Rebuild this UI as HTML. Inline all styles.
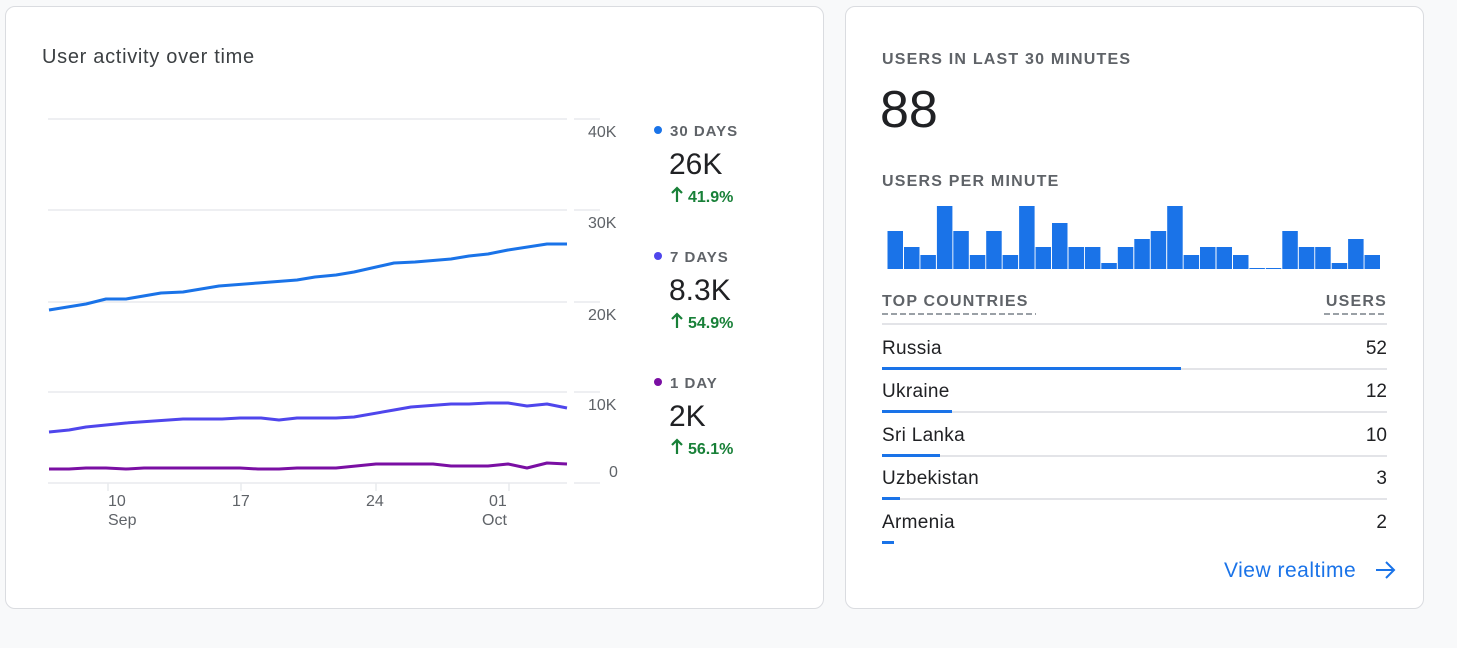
<!DOCTYPE html>
<html><head><style>
body{margin:0;width:1457px;height:648px;background:#f8f9fa;position:relative;font-family:"Liberation Sans",sans-serif;overflow:hidden}
.card{position:absolute;background:#fff;border:1px solid #dadce0;border-radius:10px}
.t{position:absolute;white-space:nowrap}
</style></head><body>
<div class="card" style="left:5px;top:6px;width:817px;height:601px"></div>
<div class="card" style="left:845px;top:6px;width:577px;height:601px"></div>
<div class="t" style="left:42px;top:46px;font-size:20px;letter-spacing:0.7px;color:#3c4043">User activity over time</div>
<svg width="1457" height="648" style="position:absolute;left:0;top:0">
<g stroke="#e8eaed" stroke-width="1.5">
<line x1="48" y1="119" x2="567" y2="119"/><line x1="48" y1="210" x2="567" y2="210"/><line x1="48" y1="302" x2="567" y2="302"/><line x1="48" y1="392" x2="567" y2="392"/><line x1="48" y1="483" x2="567" y2="483"/>
<line x1="574" y1="119" x2="600" y2="119"/><line x1="574" y1="210" x2="600" y2="210"/><line x1="574" y1="302" x2="600" y2="302"/><line x1="574" y1="392" x2="600" y2="392"/><line x1="574" y1="483" x2="600" y2="483"/>
<line x1="108" y1="483" x2="108" y2="491"/><line x1="241" y1="483" x2="241" y2="491"/><line x1="376" y1="483" x2="376" y2="491"/><line x1="509" y1="483" x2="509" y2="491"/>
</g>
<g fill="none" stroke-width="3" stroke-linejoin="round">
<polyline stroke="#1a73e8" points="49,310 86,304 106,299 126,299 161,293 183,292 219,286 258,283 297,280 315,277 336,275 354,272 394,263 415,262 451,259 469,256 488,254 508,250 547,244 567,244"/>
<polyline stroke="#4f46ec" points="49,432 69,430 86,427 126,423 183,419 222,419 240,418 261,418 279,420 297,418 336,418 354,417 394,410 411,407 451,404 469,404 488,403 508,403 527,406 547,404 567,408"/>
<polyline stroke="#7a0fa3" points="49,469 69,469 86,468 106,468 126,469 144,468 240,468 258,469 279,469 297,468 336,468 376,464 433,464 451,466 488,466 508,464 527,468 547,463 567,464"/>
</g>
<g fill="#5f6368" font-size="16" font-family="Liberation Sans">
<text x="588" y="137">40K</text><text x="588" y="228">30K</text><text x="588" y="320">20K</text><text x="588" y="410">10K</text><text x="609" y="477">0</text>
<text x="108" y="506">10</text><text x="108" y="525">Sep</text><text x="232" y="506">17</text><text x="366" y="506">24</text><text x="489" y="506">01</text><text x="482" y="525">Oct</text>
</g>
<circle cx="658" cy="130" r="4" fill="#1a73e8"/><circle cx="658" cy="256" r="4" fill="#4f46ec"/><circle cx="658" cy="382" r="4" fill="#7a0fa3"/>
<g font-family="Liberation Sans">
<text x="670" y="136" font-size="15" font-weight="bold" fill="#5f6368" letter-spacing="1">30 DAYS</text>
<text x="669" y="174" font-size="30" fill="#202124">26K</text>
<text x="688" y="202" font-size="16" font-weight="bold" fill="#188038">41.9%</text>
<text x="670" y="262" font-size="15" font-weight="bold" fill="#5f6368" letter-spacing="1">7 DAYS</text>
<text x="669" y="300" font-size="30" fill="#202124">8.3K</text>
<text x="688" y="328" font-size="16" font-weight="bold" fill="#188038">54.9%</text>
<text x="670" y="388" font-size="15" font-weight="bold" fill="#5f6368" letter-spacing="1">1 DAY</text>
<text x="669" y="426" font-size="30" fill="#202124">2K</text>
<text x="688" y="454" font-size="16" font-weight="bold" fill="#188038">56.1%</text>
</g>
<g stroke="#188038" stroke-width="2.2" fill="none"><path d="M677 202V188M672 193L677 188L682 193"/><path d="M677 328V314M672 319L677 314L682 319"/><path d="M677 454V440M672 445L677 440L682 445"/></g>
<g fill="#1a73e8" id="bars"></g>
<line x1="882" y1="314" x2="1036" y2="314" stroke="#9aa0a6" stroke-width="2" stroke-dasharray="6,3"/>
<line x1="1324" y1="314" x2="1387" y2="314" stroke="#9aa0a6" stroke-width="2" stroke-dasharray="6,3"/>
<g stroke="#dadce0" stroke-width="1.5"><line x1="882" y1="324" x2="1387" y2="324"/><line x1="882" y1="369" x2="1387" y2="369"/><line x1="882" y1="412" x2="1387" y2="412"/><line x1="882" y1="456" x2="1387" y2="456"/><line x1="882" y1="499" x2="1387" y2="499"/></g>
<g fill="#1a73e8"><rect x="882" y="367" width="299" height="3"/><rect x="882" y="410" width="70" height="3"/><rect x="882" y="454" width="58" height="3"/><rect x="882" y="497" width="18" height="3"/><rect x="882" y="541" width="12" height="3"/></g>
<g font-family="Liberation Sans" font-size="19" fill="#202124">
<text x="882" y="354" letter-spacing="0.3">Russia</text><text x="882" y="397" letter-spacing="0.3">Ukraine</text><text x="882" y="441" letter-spacing="0.3">Sri Lanka</text><text x="882" y="484" letter-spacing="0.3">Uzbekistan</text><text x="882" y="528" letter-spacing="0.3">Armenia</text>
<g text-anchor="end"><text x="1387" y="354">52</text><text x="1387" y="397">12</text><text x="1387" y="441">10</text><text x="1387" y="484">3</text><text x="1387" y="528">2</text></g>
</g>
<g font-family="Liberation Sans" font-size="16" font-weight="bold" fill="#5f6368" letter-spacing="1.2">
<text x="882" y="64">USERS IN LAST 30 MINUTES</text><text x="882" y="186">USERS PER MINUTE</text><text x="882" y="306">TOP COUNTRIES</text><text x="1387" y="306" text-anchor="end">USERS</text>
</g>
<text x="880" y="127" font-family="Liberation Sans" font-size="52" fill="#202124">88</text>
<text x="1224" y="577" font-family="Liberation Sans" font-size="21" letter-spacing="0.5" fill="#1a73e8">View realtime</text>
<path d="M1376 570H1393M1386 562L1394 570L1386 578" stroke="#1a73e8" stroke-width="2" fill="none"/>
</svg>
<script>
var tops=[123,171,195,48,123,195,123,195,48,171,99,171,171,219,171,147,123,48,195,171,171,195,234,234,123,171,171,219,147,195];
var g=document.getElementById('bars'),s='';
for(var i=0;i<tops.length;i++){var y=190+tops[i]/3;var x=887.5+i*16.45;s+='<rect x="'+x.toFixed(1)+'" y="'+y.toFixed(1)+'" width="15.5" height="'+(269-y).toFixed(1)+'"/>';}
g.innerHTML=s;
</script>
</body></html>
